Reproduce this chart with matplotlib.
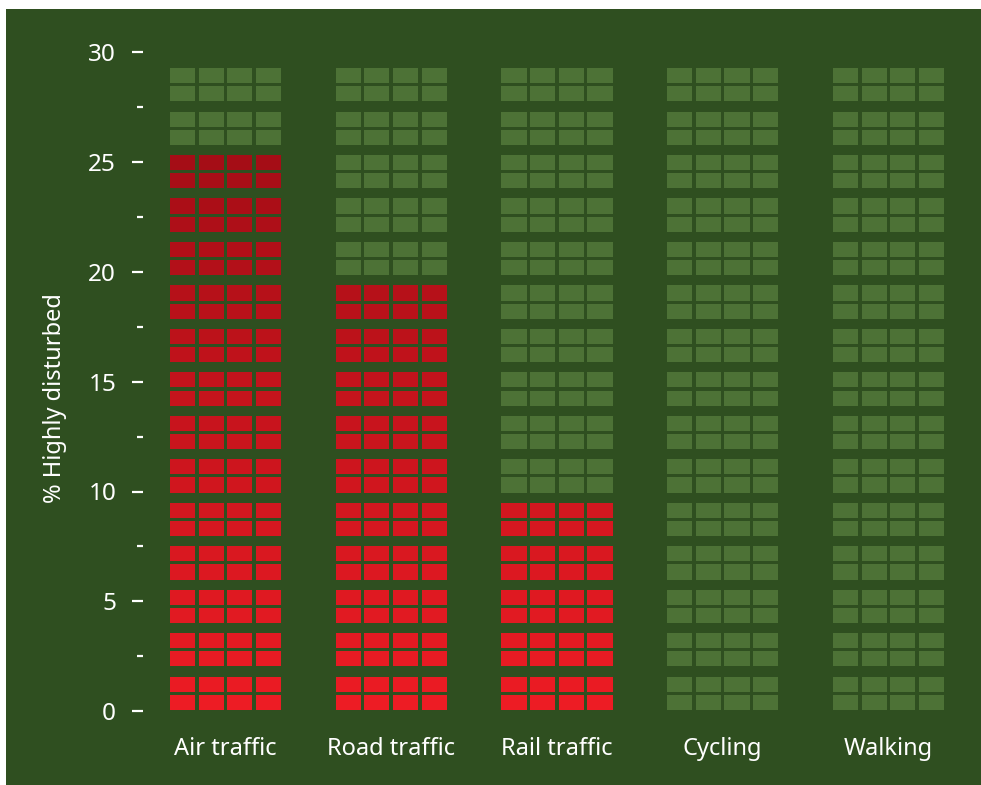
import matplotlib
matplotlib.use("Agg")
import matplotlib.pyplot as plt
from matplotlib.patches import Rectangle
import numpy as np

categories = ["Air traffic", "Road traffic", "Rail traffic", "Cycling", "Walking"]
values = [26, 20, 10, 0, 0]          # filled rows per column (1 row = 1 %)
total_rows = 30
yticks_major = [0, 5, 10, 15, 20, 25, 30]
yticks_minor = [2.5, 7.5, 12.5, 17.5, 22.5, 27.5]
ylabel = "% Highly disturbed"

BG = "#2f4f20"
EMPTY = "#4d7236"
RED_LOW = np.array([237, 28, 36]) / 255
RED_HIGH = np.array([165, 13, 22]) / 255

W, H = 981, 785
fig = plt.figure(figsize=(W / 100, H / 100), dpi=100)
fig.patch.set_facecolor("white")
fig.patches.append(Rectangle((6 / W, 0), 1 - 6 / W, (H - 9) / H,
                             transform=fig.transFigure, facecolor=BG,
                             edgecolor="none", zorder=-10))

plt.rcParams["font.family"] = ["Noto Sans", "DejaVu Sans"]

# axes placement (pixels)
px_per_unit = 21.95
y0_px = 711.0
ylo, yhi = -0.3, 30.3
ax_bottom_px = y0_px + (0 - ylo) * px_per_unit
ax_top_px = y0_px - (yhi - 0) * px_per_unit
ax_left_px, ax_right_px = 142.6, 142.6 + 5 * 165.75
ax = fig.add_axes([ax_left_px / W, (H - ax_bottom_px) / H,
                   (ax_right_px - ax_left_px) / W,
                   (ax_bottom_px - ax_top_px) / H])
ax.set_facecolor("none")
ax.set_xlim(0, 5)
ax.set_ylim(ylo, yhi)

# cell geometry (data units)
pair_pitch = 1.98
row_h = 0.69
inner_gap = 0.14
base = 0.05
block_w = 0.67
ncols = 4
col_gap = 0.021
cell_w = (block_w - (ncols - 1) * col_gap) / ncols

for i, (cat, v) in enumerate(zip(categories, values)):
    cx = i + 0.5
    left = cx - block_w / 2
    for r in range(total_rows):
        pair, pos = divmod(r, 2)
        yb = base + pair * pair_pitch + pos * (row_h + inner_gap)
        if r < v:
            t = r / 25.0
            col = tuple(RED_LOW + (RED_HIGH - RED_LOW) * min(t, 1.0))
        else:
            col = EMPTY
        for c in range(ncols):
            ax.add_patch(Rectangle((left + c * (cell_w + col_gap), yb),
                                   cell_w, row_h, facecolor=col,
                                   edgecolor="none"))

for s in ax.spines.values():
    s.set_visible(False)

ax.set_xticks([i + 0.5 for i in range(len(categories))])
ax.set_xticklabels(categories)
ax.tick_params(axis="x", length=0, pad=14, labelsize=17, colors="white")

ax.set_yticks(yticks_major)
ax.set_yticklabels([str(t) for t in yticks_major])
ax.set_yticks(yticks_minor, minor=True)
ax.tick_params(axis="y", which="major", direction="out", length=8, width=1.6,
               pad=11, labelsize=17.5, colors="white")
ax.tick_params(axis="y", which="minor", direction="out", length=4.5, width=1.6,
               colors="white")
ax.set_ylabel(ylabel, color="white", fontsize=17)
ax.yaxis.set_label_coords(-0.091, 0.475)

fig.savefig("out.png", dpi=100, facecolor=fig.get_facecolor())
